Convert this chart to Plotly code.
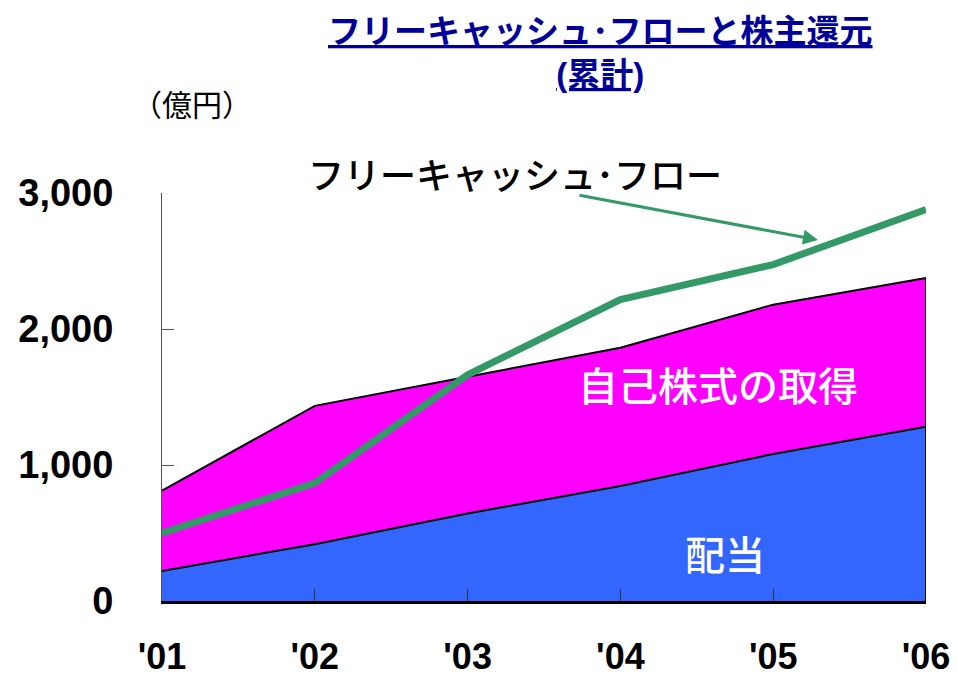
import plotly.graph_objects as go

# Fiscal years (cumulative from '01)
years = ["'01", "'02", "'03", "'04", "'05", "'06"]

# Cumulative shareholder returns, 億円
dividends = [221, 418, 644, 845, 1081, 1282]
buybacks = [590, 1017, 1005, 1017, 1098, 1094]

# Cumulative free cash flow, 億円
free_cash_flow = [499, 867, 1663, 2216, 2474, 2879]

y_ticks = [0, 1000, 2000, 3000]

BLUE = "#3366FF"
MAGENTA = "#FF00FF"
GREEN = "#339966"
NAVY = "#000099"
JP = "Noto Sans CJK JP"
LATIN_BOLD = "Liberation Sans, Arial, Noto Sans CJK JP"

totals = [d + b for d, b in zip(dividends, buybacks)]

fig = go.Figure()

fig.add_trace(go.Scatter(
    x=years, y=dividends, stackgroup="ret", mode="lines",
    line=dict(color="black", width=2), fillcolor=BLUE,
    name="配当", hoverinfo="skip",
))
fig.add_trace(go.Scatter(
    x=years, y=buybacks, stackgroup="ret", mode="lines",
    line=dict(color="black", width=2), fillcolor=MAGENTA,
    name="自己株式の取得", hoverinfo="skip",
))
# closing edge of the stacked area at the last year
fig.add_trace(go.Scatter(
    x=[years[-1], years[-1]], y=[0, totals[-1]], mode="lines",
    line=dict(color="black", width=2), hoverinfo="skip", showlegend=False,
))
fig.add_trace(go.Scatter(
    x=years, y=free_cash_flow, mode="lines",
    line=dict(color=GREEN, width=7), name="フリーキャッシュ･フロー",
    hoverinfo="skip",
))

L, R, T, B = 162, 31, 193, 77
W, H = 957, 678
pw, ph = W - L - R, H - T - B


def px(x):
    return (x - L) / pw


def py(y):
    return (H - B - y) / ph


annotations = [
    dict(text="<b><u>フリーキャッシュ･フローと株主還元</u></b><br><b><u>(累計)</u></b>",
         x=px(600), y=py(11), xref="paper", yref="paper",
         xanchor="center", yanchor="top", showarrow=False,
         font=dict(family=LATIN_BOLD, size=33, color=NAVY)),
    dict(text="（億円）", x=px(192), y=py(103), xref="paper", yref="paper",
         xanchor="center", yanchor="middle", showarrow=False,
         font=dict(family=JP, size=30, color="black")),
    dict(text="フリーキャッシュ･フロー", x=px(515), y=py(173),
         xref="paper", yref="paper", xanchor="center", yanchor="middle",
         showarrow=False,
         font=dict(family=JP, size=36, color="black", weight=500)),
    dict(text="", x=px(818), y=py(240), xref="paper", yref="paper",
         ax=-240, ay=-45, showarrow=True, arrowhead=2, arrowsize=1,
         arrowwidth=3, arrowcolor=GREEN),
    dict(text="自己株式の取得", x=px(718), y=py(384), xref="paper", yref="paper",
         xanchor="center", yanchor="middle", showarrow=False,
         font=dict(family=JP, size=40, color="white", weight=500)),
    dict(text="配当", x=px(725), y=py(553), xref="paper", yref="paper",
         xanchor="center", yanchor="middle", showarrow=False,
         font=dict(family=JP, size=40, color="white", weight=500)),
]

fig.update_layout(
    width=W, height=H,
    margin=dict(l=L, r=R, t=T, b=B, pad=0, autoexpand=False),
    paper_bgcolor="white", plot_bgcolor="white",
    showlegend=False,
    annotations=annotations,
    xaxis=dict(
        type="category", range=[0, len(years) - 1],
        automargin=False,
        showgrid=False, zeroline=False,
        showline=True, linecolor="black", linewidth=3,
        ticks="inside", ticklen=12, tickcolor="#333333", tickwidth=1,
        ticklabelstandoff=22,
        tickfont=dict(family=LATIN_BOLD, size=36, color="black", weight="bold"),
    ),
    yaxis=dict(
        range=[0, 3000], tickvals=y_ticks, tickformat=",",
        automargin=False,
        showgrid=False, zeroline=False,
        showline=True, linecolor="#555555", linewidth=1,
        ticks="inside", ticklen=12, tickcolor="#555555", tickwidth=1,
        ticklabelstandoff=40,
        tickfont=dict(family=LATIN_BOLD, size=38, color="black", weight="bold"),
    ),
)

fig.write_html("out.html")
